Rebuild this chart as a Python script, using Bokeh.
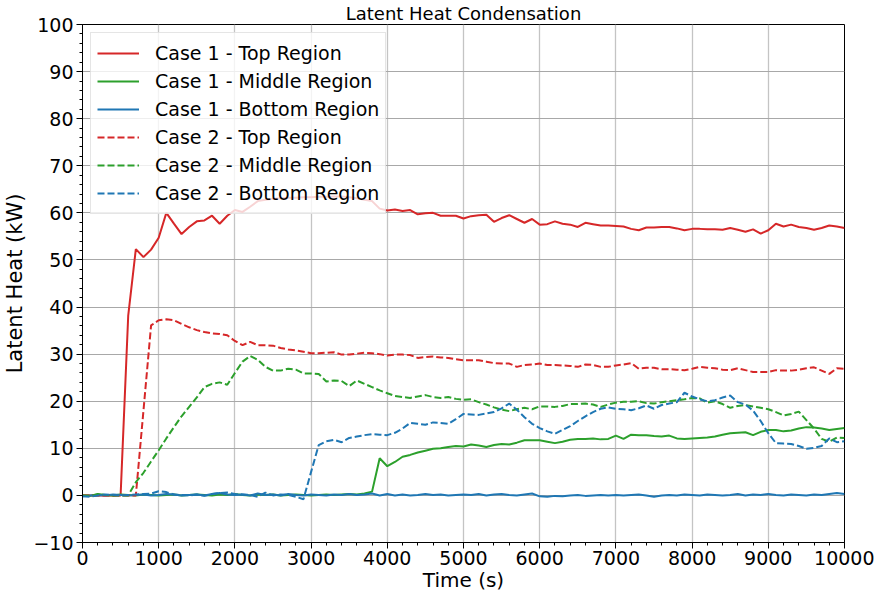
from bokeh.plotting import figure
from bokeh.models import (Range1d, SingleIntervalTicker, CustomJSTickFormatter,
                          ColumnDataSource, Legend, LegendItem)
from bokeh.embed import file_html
from bokeh.resources import INLINE

# ---------------- data ----------------
time_s = list(range(0, 10001, 100))

case1_top = [
    0, 0, 0, 0, 0, 0, 38.2, 52.3, 50.6, 52.2,
    54.7, 60.0, 57.7, 55.5, 57.0, 58.2, 58.4, 59.4, 57.7, 59.4,
    60.6, 60.2, 61.3, 62.5, 62.8, 63.0, 63.1, 63.2, 63.2, 63.3,
    63.3, 63.4, 63.4, 63.5, 63.5, 63.3, 63.1, 62.8, 62.5, 60.9,
    60.5, 60.7, 60.4, 60.6, 59.7, 59.9, 60.0, 59.4, 59.4, 59.4,
    58.8, 59.3, 59.5, 59.6, 58.1, 58.9, 59.5, 58.7, 57.9, 58.7,
    57.5, 57.6, 58.2, 57.7, 57.5, 57.0, 57.9, 57.6, 57.3, 57.3,
    57.2, 57.1, 56.6, 56.3, 56.9, 56.9, 57.0, 57.0, 56.7, 56.3,
    56.6, 56.6, 56.5, 56.5, 56.4, 56.8, 56.4, 56.0, 56.5, 55.6,
    56.3, 57.7, 57.1, 57.5, 57.0, 56.8, 56.4, 56.8, 57.3, 57.1,
    56.8,
]

case1_middle = [
    0.0, -0.1, 0.3, 0.1, 0.0, 0.2, 0.1, 0.0, 0.2, 0.1,
    0.0, 0.1, 0.2, 0.0, 0.1, 0.2, 0.1, 0.0, 0.2, 0.1,
    0.3, 0.1, 0.0, 0.2, 0.1, 0.2, 0.0, 0.1, 0.2, 0.1,
    0.0, 0.1, 0.2, 0.1, 0.2, 0.3, 0.2, 0.4, 0.8, 7.9,
    6.2, 7.1, 8.2, 8.6, 9.1, 9.5, 9.9, 10.0, 10.3, 10.5,
    10.4, 10.8, 10.6, 10.3, 10.7, 10.9, 10.8, 11.2, 11.7, 11.7,
    11.7, 11.4, 11.1, 11.4, 11.8, 12.0, 12.0, 12.1, 11.9, 12.0,
    12.7, 12.0, 12.9, 12.8, 12.8, 12.6, 12.5, 12.7, 12.1, 12.0,
    12.1, 12.2, 12.3, 12.5, 12.9, 13.2, 13.3, 13.4, 12.8, 13.5,
    13.9, 13.9, 13.6, 13.8, 14.2, 14.5, 14.4, 14.2, 13.9, 14.1,
    14.3,
]

case1_bottom = [
    -0.2, 0.0, 0.1, 0.0, 0.2, 0.1, 0.0, 0.1, 0.2, 0.0,
    0.1, 0.3, 0.2, 0.0, 0.1, 0.2, 0.0, 0.3, 0.5, 0.2,
    0.1, 0.2, 0.0, 0.4, 0.1, 0.2, 0.0, 0.3, 0.1, 0.0,
    0.2, 0.1, 0.0, 0.2, 0.1, 0.3, 0.1, 0.2, 0.4, 0.0,
    0.3, 0.0, 0.2, 0.0, 0.1, 0.3, 0.1, 0.2, 0.0, 0.1,
    0.2, 0.1, 0.3, 0.0, 0.2, 0.3, 0.1, 0.0, 0.2, 0.4,
    -0.2, -0.3, -0.1, -0.2, 0.0, 0.1, -0.1, 0.0, 0.1, 0.0,
    0.1, 0.0, 0.1, 0.2, 0.0, -0.3, 0.0, 0.1, 0.0, 0.2,
    0.1, 0.0, 0.2, 0.1, 0.0, 0.1, 0.3, 0.0, 0.2, 0.1,
    0.3, 0.1, 0.0, 0.2, 0.1, 0.0, 0.2, 0.1, 0.3, 0.5,
    0.3,
]

case2_top = [
    0, 0, 0, 0, 0, 0, 0, 0, 18.0, 36.1,
    37.2, 37.4, 37.2, 36.4, 35.7, 35.1, 34.7, 34.4, 34.3, 34.0,
    32.8, 31.9, 32.6, 31.9, 31.9, 31.8, 31.3, 31.0, 30.8, 30.5,
    30.2, 30.2, 30.3, 30.4, 29.9, 29.9, 30.1, 30.3, 30.2, 30.0,
    29.7, 29.9, 29.9, 29.8, 29.2, 29.4, 29.5, 29.3, 29.2, 28.9,
    28.7, 28.7, 28.7, 28.4, 28.1, 28.0, 28.0, 27.3, 27.7, 27.8,
    28.0, 27.7, 27.7, 27.6, 27.5, 27.3, 27.8, 27.7, 27.3, 27.3,
    27.6, 27.8, 28.1, 26.9, 27.1, 27.1, 26.8, 26.8, 26.7, 26.6,
    26.9, 27.3, 27.1, 27.0, 26.7, 26.6, 27.0, 26.6, 26.2, 26.2,
    26.2, 26.6, 26.5, 26.5, 26.7, 27.0, 27.2, 26.5, 25.8, 27.0,
    26.9,
]

case2_middle = [
    0.0, -0.1, 0.2, 0.1, 0.0, 0.0, 0.0, 2.8, 4.8, 7.2,
    9.6, 12.1, 14.5, 16.8, 18.8, 20.8, 23.0, 23.7, 24.0, 23.5,
    26.0, 28.4, 29.6, 28.8, 27.3, 26.5, 26.5, 26.9, 26.7, 25.9,
    25.9, 25.8, 24.2, 24.4, 24.3, 23.2, 24.4, 23.7, 23.0, 22.3,
    21.7, 21.1, 20.9, 20.7, 21.0, 21.3, 20.9, 20.7, 20.9, 20.5,
    20.3, 20.4, 19.8, 19.3, 18.7, 18.2, 17.9, 18.3, 18.6, 18.3,
    18.9, 18.9, 18.8, 19.0, 19.4, 19.4, 19.5, 19.3, 18.8, 19.3,
    19.7, 19.9, 19.9, 20.0, 19.6, 19.5, 19.8, 20.0, 20.2, 20.4,
    20.7, 20.6, 19.7, 20.0, 19.4, 18.6, 19.0, 19.2, 18.9, 18.6,
    18.3, 17.7, 17.0, 17.3, 17.8, 16.0, 14.2, 12.0, 11.4, 12.3,
    12.2,
]

case2_bottom = [
    -0.2, -0.3, 0.0, 0.2, 0.1, 0.0, 0.1, 0.2, 0.3, 0.4,
    0.9, 0.7, 0.2, 0.1, 0.0, 0.2, -0.1, 0.3, 0.5, 0.6,
    0.3, 0.2, 0.1, -0.3, 0.6, 0.0, 0.2, 0.1, -0.3, -0.8,
    5.0, 10.7, 11.5, 11.8, 11.3, 12.2, 12.5, 12.8, 13.0, 12.9,
    12.8, 13.3, 14.2, 15.4, 15.2, 15.0, 15.5, 15.4, 15.2, 16.2,
    17.3, 17.2, 17.1, 17.4, 17.7, 18.5, 19.5, 18.2, 16.6, 15.2,
    14.3, 13.6, 13.1, 13.9, 14.7, 15.8, 16.8, 17.7, 18.4, 18.7,
    18.4, 18.3, 18.1, 18.5, 19.1, 18.4, 19.2, 19.5, 19.8, 21.8,
    21.0, 20.4, 20.0, 20.2, 20.8, 21.2, 19.8, 19.3, 18.0, 15.8,
    13.2, 11.1, 11.0, 10.9, 10.5, 9.9, 10.1, 10.5, 12.1, 11.3,
    11.5,
]

series_labels = [
    "Case 1 - Top Region", "Case 1 - Middle Region", "Case 1 - Bottom Region",
    "Case 2 - Top Region", "Case 2 - Middle Region", "Case 2 - Bottom Region",
]
title_text = "Latent Heat Condensation"
x_label = "Time (s)"
y_label = "Latent Heat (kW)"

# ---------------- styling ----------------
RED, GREEN, BLUE = "#d62728", "#2ca02c", "#1f77b4"
FONT = "DejaVu Sans"

p = figure(width=874, height=594, output_backend="svg", toolbar_location=None,
           x_range=Range1d(0, 10000), y_range=Range1d(-10, 100),
           min_border_left=82, min_border_right=30, min_border_top=10,
           min_border_bottom=50, background_fill_color="white",
           border_fill_color="white")

p.title.text = title_text
p.title.align = "center"
p.title.text_font = FONT
p.title.text_font_size = "18px"
p.title.text_font_style = "normal"
p.title.text_color = "black"
p.title.standoff = 1
p.title.offset = 0

p.outline_line_color = "black"
p.outline_line_width = 1

p.xaxis.ticker = SingleIntervalTicker(interval=1000, num_minor_ticks=5)
p.yaxis.ticker = SingleIntervalTicker(interval=10, num_minor_ticks=5)
p.yaxis.formatter = CustomJSTickFormatter(
    code="return tick < 0 ? '\u2212' + Math.abs(tick) : String(tick);")

for ax in (p.xaxis[0], p.yaxis[0]):
    ax.axis_line_color = "black"
    ax.major_tick_line_color = "black"
    ax.minor_tick_line_color = "black"
    ax.major_tick_out = 6
    ax.major_tick_in = 0
    ax.minor_tick_out = 3
    ax.minor_tick_in = 0
    ax.major_label_text_font = FONT
    ax.major_label_text_font_size = "19px"
    ax.major_label_text_color = "black"
    ax.axis_label_text_font = FONT
    ax.axis_label_text_font_size = "20px"
    ax.axis_label_text_font_style = "normal"
    ax.axis_label_text_color = "black"

p.xaxis.axis_label = x_label
p.xaxis.major_label_standoff = 2
p.xaxis.axis_label_standoff = 0
p.yaxis.axis_label = y_label
p.yaxis.axis_label_text_font_size = "21px"
p.yaxis.major_label_standoff = 3
p.yaxis.axis_label_standoff = 3

p.xgrid.grid_line_color = "#c4c4c4"
p.xgrid.grid_line_width = 1.3
p.ygrid.grid_line_color = "#a8a8a8"
p.ygrid.grid_line_width = 1

src = ColumnDataSource(dict(t=time_s, c1t=case1_top, c1m=case1_middle,
                            c1b=case1_bottom, c2t=case2_top, c2m=case2_middle,
                            c2b=case2_bottom))
specs = [("c1t", RED, "solid"), ("c1m", GREEN, "solid"), ("c1b", BLUE, "solid"),
         ("c2t", RED, "7 3"), ("c2m", GREEN, "7 3"), ("c2b", BLUE, "7 3")]
items = []
for (col, color, dash), lab in zip(specs, series_labels):
    r = p.line("t", col, source=src, line_color=color, line_width=2,
               line_dash=dash)
    items.append(LegendItem(label=lab, renderers=[r]))

legend = Legend(items=items, location="top_left", margin=8, padding=6,
                spacing=0, label_height=28, glyph_height=28, glyph_width=42,
                label_standoff=16, label_text_font=FONT,
                label_text_font_size="19px", label_text_color="black",
                background_fill_color="white", background_fill_alpha=0.8,
                border_line_color="#cccccc", border_line_width=1)
p.add_layout(legend, "center")

open("out.html", "w").write(file_html(p, INLINE))
